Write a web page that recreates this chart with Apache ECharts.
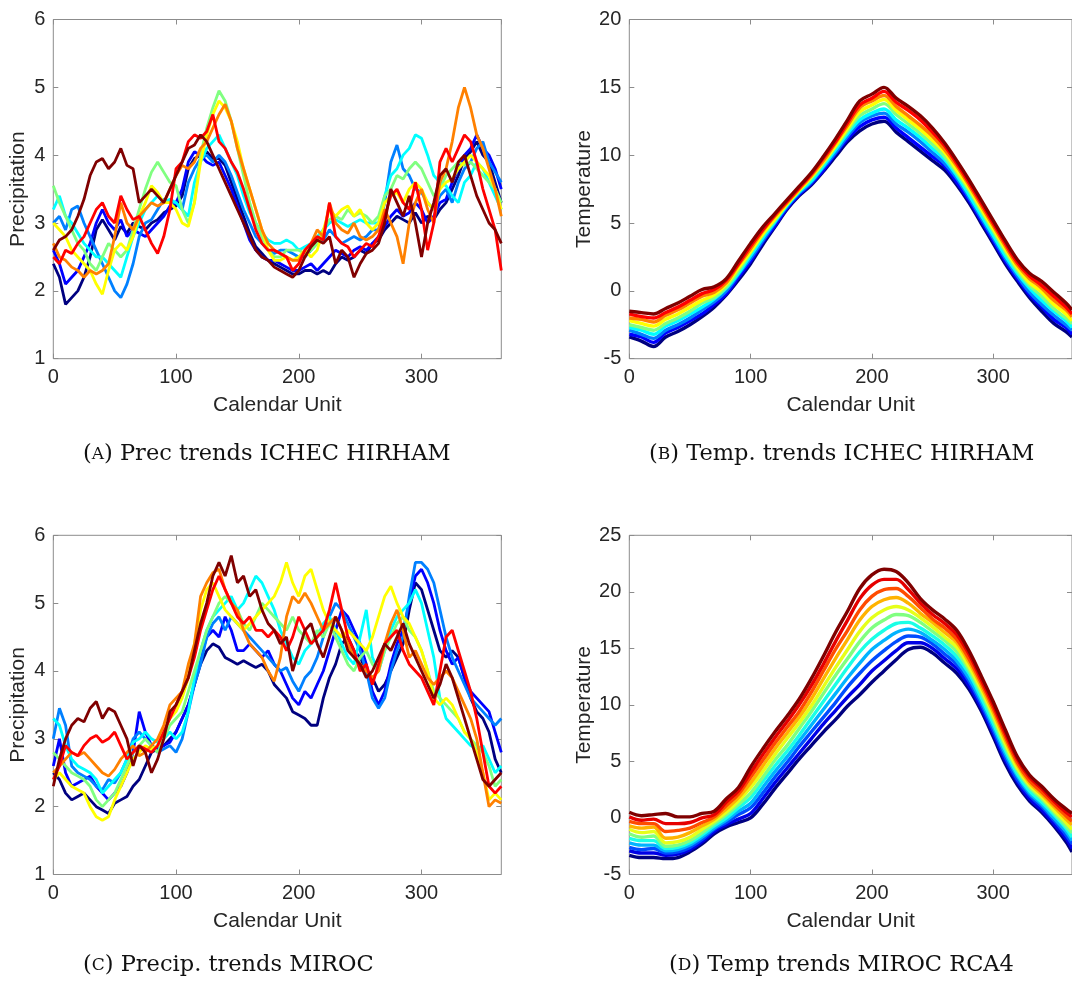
<!DOCTYPE html>
<html><head><meta charset="utf-8">
<script src="https://cdn.jsdelivr.net/npm/echarts@6/dist/echarts.min.js"></script>
<style>html,body{margin:0;padding:0;background:#fff}#c{width:1072px;height:984px}</style>
</head><body><div id="c"></div>
<script>
// ---------- x values ----------
const DAYS_P = [0,5,10,15,20,25,30,35,40,45,50,55,60,65,70,75,80,85,90,95,100,105,110,115,120,125,130,135,140,145,150,155,160,165,170,175,180,185,190,195,200,205,210,215,220,225,230,235,240,245,250,255,260,265,270,275,280,285,290,295,300,305,310,315,320,325,330,335,340,345,350,355,360,365];
const DAYS_T = [0,10,20,30,40,50,60,70,80,90,100,110,120,130,140,150,160,170,180,190,200,210,220,230,240,250,260,270,280,290,300,310,320,330,340,350,360,365];

// ---------- (A) precipitation ICHEC HIRHAM ----------
const PREC_A_DARKBLUE = [2.4,2.2,1.8,1.9,2.0,2.2,2.5,2.9,3.05,2.9,2.75,2.95,2.85,3.0,2.95,2.9,3.0,3.05,3.15,3.2,3.25,3.4,3.8,3.95,4.0,4.05,3.95,3.95,3.85,3.6,3.35,3.1,2.85,2.65,2.55,2.45,2.4,2.35,2.3,2.25,2.25,2.3,2.3,2.25,2.3,2.25,2.4,2.5,2.45,2.5,2.6,2.55,2.7,2.75,2.9,3.0,3.1,3.05,3.0,3.15,3.0,3.1,3.05,3.2,3.3,3.5,3.7,3.95,4.05,4.2,4.0,3.9,3.6,3.3];
const PREC_A_BLUE = [2.6,2.4,2.1,2.2,2.3,2.5,2.7,3.0,3.2,3.0,2.9,3.05,2.8,2.9,2.85,2.8,2.9,3.0,3.1,3.25,3.3,3.5,3.9,4.05,4.0,3.9,3.85,3.9,3.7,3.5,3.25,3.0,2.75,2.6,2.5,2.45,2.45,2.4,2.35,2.3,2.3,2.35,2.4,2.3,2.4,2.5,2.6,2.55,2.5,2.6,2.65,2.6,2.7,2.8,2.95,3.1,3.2,3.1,3.15,3.3,3.2,3.0,3.1,3.3,3.35,3.6,3.8,4.0,4.1,4.3,4.1,4.0,3.8,3.5];
const PREC_A_LIGHTBLUE = [3.0,3.1,2.9,3.2,3.25,3.0,2.8,2.6,2.4,2.2,2.0,1.9,2.1,2.4,2.8,3.0,3.05,3.2,3.35,3.3,3.3,3.2,3.6,3.8,3.95,4.0,3.9,4.0,3.9,3.7,3.45,3.2,3.0,2.8,2.7,2.6,2.55,2.6,2.6,2.55,2.5,2.5,2.6,2.7,2.75,2.9,2.8,2.7,2.75,2.8,2.75,2.8,2.9,2.9,3.3,3.9,4.15,3.8,3.7,3.5,3.45,3.3,3.2,3.4,3.5,3.3,3.6,3.8,3.9,4.1,4.2,3.9,3.75,3.6];
const PREC_A_CYAN = [3.2,3.4,3.1,3.0,2.85,2.7,2.6,2.5,2.5,2.4,2.3,2.2,2.5,2.8,3.0,3.2,3.3,3.4,3.3,3.35,3.3,3.2,3.1,3.6,3.9,4.1,4.2,4.3,4.1,3.9,3.7,3.4,3.15,3.0,2.85,2.75,2.7,2.7,2.75,2.7,2.6,2.65,2.7,2.8,2.9,3.0,3.05,3.0,2.95,3.0,3.05,3.0,3.0,3.0,3.4,3.7,3.8,4.0,4.1,4.3,4.25,4.0,3.7,3.6,3.55,3.4,3.3,3.6,3.7,3.9,3.8,3.6,3.4,3.2];
const PREC_A_GREEN = [3.55,3.3,3.1,2.9,2.7,2.6,2.4,2.3,2.5,2.7,2.6,2.5,2.6,2.9,3.2,3.5,3.75,3.9,3.75,3.6,3.55,3.2,3.0,3.3,4.0,4.4,4.7,4.95,4.8,4.5,4.1,3.7,3.3,3.0,2.8,2.6,2.5,2.5,2.6,2.6,2.6,2.55,2.6,2.7,2.9,3.05,3.1,3.05,3.2,3.1,3.15,3.1,3.0,3.1,3.4,3.5,3.7,3.65,3.8,3.9,3.8,3.6,3.4,3.5,3.7,3.8,3.9,3.85,3.9,3.8,3.7,3.6,3.5,3.3];
const PREC_A_YELLOW = [3.0,2.9,2.8,2.6,2.5,2.4,2.3,2.1,1.95,2.3,2.6,2.7,2.6,2.8,3.1,3.3,3.55,3.45,3.3,3.3,3.2,3.0,2.95,3.3,3.9,4.3,4.6,4.8,4.7,4.5,4.2,3.8,3.5,3.2,2.9,2.6,2.45,2.45,2.5,2.45,2.5,2.6,2.5,2.6,2.9,3.2,3.1,3.2,3.25,3.1,3.2,3.0,2.9,3.0,3.3,3.4,3.45,3.3,3.5,3.6,3.5,3.3,3.2,3.5,3.6,3.65,3.8,3.9,4.0,3.9,3.8,3.7,3.5,3.2];
const PREC_A_ORANGE = [2.7,2.5,2.45,2.35,2.3,2.2,2.3,2.25,2.3,2.4,2.8,3.3,3.0,2.9,3.1,3.2,3.3,3.25,3.3,3.5,3.7,3.85,3.8,3.9,4.1,4.2,4.4,4.6,4.75,4.5,4.1,3.8,3.5,3.2,2.9,2.7,2.6,2.55,2.5,2.45,2.45,2.6,2.7,2.9,2.8,3.3,3.0,2.9,2.85,3.0,2.8,2.75,2.8,2.9,3.2,3.0,2.8,2.4,3.0,3.3,3.5,3.2,3.0,3.6,3.8,4.2,4.7,5.0,4.7,4.3,4.1,3.8,3.5,3.1];
const PREC_A_RED = [2.5,2.4,2.6,2.55,2.7,2.8,3.0,3.2,3.3,3.1,3.0,3.4,3.2,3.05,3.1,2.9,2.7,2.55,2.8,3.2,3.8,3.9,4.2,4.3,4.25,4.35,4.6,4.2,4.1,3.9,3.75,3.5,3.2,2.9,2.7,2.6,2.6,2.55,2.5,2.3,2.4,2.6,2.7,2.8,2.75,3.3,2.8,2.7,2.65,2.5,2.6,2.7,2.65,2.8,3.1,3.4,3.5,3.3,3.2,3.6,3.2,2.6,3.0,3.9,4.1,3.9,4.1,4.3,4.2,3.9,3.5,3.2,2.9,2.3];
const PREC_A_DARKRED = [2.6,2.75,2.8,2.9,3.1,3.35,3.7,3.9,3.95,3.8,3.9,4.1,3.85,3.8,3.3,3.4,3.5,3.4,3.3,3.5,3.7,3.9,4.1,4.15,4.3,4.2,4.0,3.8,3.6,3.4,3.2,3.0,2.8,2.6,2.5,2.45,2.35,2.3,2.25,2.2,2.3,2.5,2.65,2.75,2.7,2.8,2.4,2.6,2.5,2.2,2.4,2.55,2.6,2.7,3.0,3.5,3.3,3.1,3.4,3.0,2.5,3.0,3.3,3.7,3.8,3.6,3.9,4.0,3.7,3.4,3.2,3.0,2.9,2.7];

// ---------- (C) precipitation MIROC ----------
const PREC_C_DARKBLUE = [2.5,2.4,2.2,2.1,2.15,2.2,2.1,2.0,1.95,1.9,2.05,2.1,2.15,2.3,2.4,2.6,2.8,2.85,2.9,3.0,3.1,3.3,3.5,3.8,4.1,4.3,4.4,4.35,4.2,4.15,4.1,4.15,4.1,4.05,4.1,4.0,3.8,3.7,3.6,3.4,3.35,3.3,3.2,3.2,3.6,3.9,4.1,4.4,4.5,4.3,4.2,4.0,3.9,3.7,3.8,4.0,4.2,4.4,4.9,5.3,5.2,4.9,4.6,4.3,4.2,4.3,4.2,3.9,3.6,3.4,3.3,3.1,2.7,2.5];
const PREC_C_BLUE = [2.6,3.0,2.5,2.3,2.35,2.4,2.45,2.3,2.2,2.1,2.2,2.3,2.5,2.8,3.4,3.1,2.9,2.85,2.9,2.95,3.1,3.3,3.5,3.8,4.2,4.5,4.6,4.5,4.8,4.6,4.3,4.3,4.4,4.3,4.2,4.3,4.1,4.0,3.8,3.6,3.5,3.7,3.6,3.8,4.0,4.3,4.6,4.9,4.8,4.6,4.4,4.1,3.7,3.5,3.7,4.1,4.4,4.6,5.0,5.4,5.5,5.3,5.0,4.6,4.3,4.1,4.2,3.9,3.7,3.6,3.5,3.4,3.1,2.8];
const PREC_C_LIGHTBLUE = [3.0,3.45,3.2,2.6,2.5,2.45,2.4,2.3,2.25,2.4,2.35,2.5,2.7,3.0,3.1,3.0,2.9,2.8,2.85,2.9,2.8,3.0,3.4,3.8,4.1,4.5,4.7,4.8,4.6,4.8,4.7,4.6,4.5,4.4,4.3,4.2,4.1,4.0,4.05,3.85,3.7,3.9,4.0,4.2,4.5,4.8,5.0,4.9,4.7,4.5,4.3,4.0,3.6,3.45,3.6,4.0,4.3,4.5,5.1,5.6,5.6,5.5,5.3,4.9,4.5,4.2,4.0,3.8,3.6,3.5,3.4,3.3,3.2,3.3];
const PREC_C_CYAN = [3.3,3.2,2.9,2.7,2.6,2.55,2.5,2.4,2.2,2.3,2.4,2.5,2.7,2.95,3.0,3.1,3.0,2.95,3.0,3.1,3.0,3.1,3.4,3.9,4.3,4.6,4.8,4.9,5.0,5.1,4.9,5.0,5.2,5.4,5.3,5.1,4.9,4.6,4.4,4.2,4.1,4.3,4.4,4.5,4.7,4.8,4.6,4.4,4.2,4.1,4.5,4.9,4.2,4.0,4.3,4.6,4.8,4.9,5.0,5.2,5.0,4.6,4.2,3.6,3.3,3.2,3.1,3.0,2.9,2.85,2.9,2.7,2.5,2.6];
const PREC_C_GREEN = [2.8,2.7,2.6,2.5,2.45,2.4,2.3,2.1,2.0,2.1,2.2,2.4,2.6,2.8,2.9,3.0,2.9,2.8,3.0,3.2,3.3,3.4,3.7,4.0,4.3,4.6,4.8,5.0,5.1,5.0,4.9,4.7,4.6,4.8,5.0,4.9,4.8,4.7,4.6,4.8,4.6,4.5,4.4,4.6,4.5,4.7,4.5,4.3,4.1,4.0,4.2,4.3,4.1,4.0,4.3,4.5,4.7,4.8,4.6,4.5,4.3,4.0,3.7,3.6,3.5,3.4,3.3,3.1,3.0,2.9,2.8,2.6,2.3,2.4];
const PREC_C_YELLOW = [2.4,2.5,2.4,2.3,2.25,2.2,2.0,1.85,1.8,1.85,2.1,2.3,2.5,2.7,2.8,2.9,2.85,2.9,3.1,3.3,3.4,3.6,3.9,4.4,4.9,5.2,5.3,5.1,4.9,4.8,4.7,4.6,4.7,4.8,4.9,5.0,5.1,5.3,5.6,5.3,5.1,5.4,5.5,5.2,4.9,4.7,4.6,4.5,4.6,4.5,4.4,4.3,4.5,4.8,5.1,5.25,5.0,4.8,4.7,4.5,4.3,4.0,3.6,3.5,3.6,3.5,3.3,3.1,3.0,2.8,2.5,2.1,2.2,2.1];
const PREC_C_ORANGE = [2.5,2.6,2.7,2.8,2.75,2.8,2.7,2.6,2.5,2.45,2.55,2.7,2.8,2.9,2.75,2.8,2.9,3.0,3.2,3.5,3.6,3.7,4.1,4.4,5.1,5.3,5.45,5.5,5.2,5.0,4.9,4.6,4.4,4.3,4.2,4.0,3.85,4.2,4.8,5.1,5.0,5.15,5.0,4.8,4.6,4.7,4.8,4.6,4.4,4.2,4.1,4.0,3.9,4.0,4.4,4.7,4.9,4.6,4.2,4.3,4.1,3.9,3.8,3.9,4.0,3.9,3.7,3.5,3.3,3.0,2.5,2.0,2.1,2.05];
const PREC_C_RED = [2.4,2.6,2.9,2.8,2.75,2.9,3.0,3.05,2.95,3.0,3.1,2.9,2.7,2.8,2.9,2.85,2.8,2.9,3.1,3.3,3.5,3.7,3.9,4.2,4.6,4.9,5.2,5.4,5.2,5.0,4.8,4.7,4.8,4.6,4.6,4.5,4.6,4.5,4.3,4.5,4.8,4.6,4.4,4.5,4.6,4.9,5.3,4.9,4.5,4.3,4.0,4.1,3.8,4.1,4.4,4.5,4.6,4.3,4.1,4.0,3.9,3.7,3.5,4.0,4.5,4.6,4.3,4.0,3.7,3.3,2.8,2.3,2.2,2.3];
const PREC_C_DARKRED = [2.3,2.7,3.0,3.2,3.3,3.25,3.45,3.55,3.3,3.45,3.4,3.2,3.0,2.6,2.9,2.8,2.5,2.7,3.0,3.4,3.5,3.7,3.9,4.3,4.7,5.0,5.4,5.6,5.4,5.7,5.3,5.4,5.1,5.2,4.9,4.7,4.6,4.4,4.5,4.0,4.3,4.6,4.7,4.4,4.2,4.5,4.8,4.6,4.3,4.2,4.1,3.9,4.0,4.2,4.4,4.3,4.5,4.7,4.4,4.2,4.0,3.8,3.6,3.8,4.1,3.9,3.6,3.3,3.0,2.7,2.4,2.3,2.4,2.5];

// ---------- (B) temperature ICHEC HIRHAM (coolest -> warmest member) ----------
const TEMP_B_0 = [-3.4,-3.7,-4.1,-3.4,-3.0,-2.5,-1.9,-1.2,-0.3,0.8,2.0,3.4,4.7,6.0,7.0,7.8,8.8,9.9,11.0,11.8,12.3,12.5,11.7,11.0,10.3,9.6,8.9,7.8,6.5,5.0,3.5,2.0,0.7,-0.5,-1.5,-2.4,-3.0,-3.4];
const TEMP_B_1 = [-3.2,-3.4,-3.8,-3.1,-2.7,-2.2,-1.7,-1.0,-0.2,1.0,2.2,3.6,4.8,6.1,7.1,7.9,8.9,10.1,11.2,12.1,12.6,12.8,12.0,11.3,10.6,9.9,9.2,8.0,6.7,5.2,3.7,2.2,0.9,-0.3,-1.2,-2.1,-2.7,-3.2];
const TEMP_B_2 = [-2.9,-3.2,-3.5,-2.9,-2.5,-2.0,-1.4,-0.8,0.0,1.2,2.4,3.7,5.0,6.2,7.2,8.0,9.1,10.2,11.4,12.4,12.9,13.1,12.3,11.7,11.0,10.2,9.4,8.3,6.9,5.4,3.9,2.4,1.1,-0.1,-1.0,-1.8,-2.5,-2.9];
const TEMP_B_3 = [-2.7,-2.9,-3.2,-2.6,-2.2,-1.7,-1.2,-0.6,0.2,1.3,2.6,3.9,5.1,6.3,7.3,8.1,9.2,10.4,11.6,12.6,13.1,13.4,12.6,12.0,11.3,10.5,9.7,8.5,7.1,5.6,4.1,2.6,1.3,0.2,-0.7,-1.5,-2.2,-2.7];
const TEMP_B_4 = [-2.5,-2.7,-2.9,-2.4,-2.0,-1.5,-0.9,-0.5,0.3,1.5,2.8,4.1,5.2,6.4,7.4,8.3,9.4,10.6,11.8,12.9,13.4,13.8,13.0,12.3,11.6,10.8,9.9,8.7,7.4,5.9,4.4,2.9,1.5,0.4,-0.4,-1.3,-2.0,-2.4];
const TEMP_B_5 = [-2.2,-2.4,-2.6,-2.1,-1.7,-1.2,-0.7,-0.3,0.5,1.7,2.9,4.2,5.3,6.4,7.4,8.4,9.5,10.7,12.0,13.2,13.7,14.1,13.3,12.6,11.9,11.1,10.2,8.9,7.6,6.1,4.6,3.1,1.7,0.6,-0.1,-1.0,-1.7,-2.2];
const TEMP_B_6 = [-2.0,-2.1,-2.3,-1.8,-1.4,-0.9,-0.4,-0.1,0.6,1.9,3.1,4.4,5.5,6.5,7.5,8.5,9.6,10.9,12.2,13.5,14.0,14.4,13.6,12.9,12.2,11.4,10.4,9.2,7.8,6.3,4.8,3.3,1.9,0.9,0.2,-0.7,-1.4,-1.9];
const TEMP_B_7 = [-1.7,-1.9,-2.0,-1.6,-1.2,-0.7,-0.2,0.1,0.8,2.0,3.3,4.5,5.6,6.6,7.6,8.6,9.8,11.0,12.4,13.7,14.2,14.7,13.9,13.3,12.6,11.7,10.7,9.4,8.0,6.5,5.0,3.5,2.1,1.1,0.4,-0.4,-1.2,-1.7];
const TEMP_B_8 = [-1.5,-1.6,-1.7,-1.3,-0.9,-0.4,0.1,0.3,0.9,2.2,3.5,4.7,5.7,6.7,7.7,8.7,9.9,11.2,12.6,14.0,14.5,15.0,14.2,13.6,12.9,12.0,10.9,9.6,8.2,6.7,5.2,3.7,2.3,1.3,0.7,-0.1,-0.9,-1.4];

// ---------- (D) temperature MIROC RCA4 (coolest -> warmest member) ----------
const TEMP_D_0 = [-3.3,-3.5,-3.5,-3.6,-3.5,-3.0,-2.3,-1.4,-0.8,-0.4,0.0,1.2,2.6,3.9,5.2,6.4,7.6,8.7,9.9,10.9,12.0,13.0,14.0,14.9,15.1,14.6,13.7,12.8,11.4,9.5,7.2,4.8,2.9,1.5,0.5,-0.7,-2.1,-3.0];
const TEMP_D_1 = [-2.9,-3.1,-3.1,-3.3,-3.2,-2.8,-2.1,-1.2,-0.6,-0.1,0.4,1.7,3.1,4.4,5.7,7.0,8.3,9.5,10.7,11.8,13.0,13.9,14.8,15.5,15.5,15.0,14.1,13.2,11.7,9.8,7.5,5.1,3.2,1.7,0.7,-0.5,-1.8,-2.7];
const TEMP_D_2 = [-2.6,-2.8,-2.7,-3.1,-3.0,-2.6,-1.9,-1.0,-0.4,0.3,0.9,2.2,3.6,4.9,6.3,7.6,8.9,10.2,11.6,12.8,13.9,14.8,15.6,16.1,16.0,15.4,14.5,13.6,12.1,10.1,7.8,5.4,3.4,2.0,1.0,-0.2,-1.5,-2.3];
const TEMP_D_3 = [-2.2,-2.4,-2.4,-2.9,-2.8,-2.4,-1.7,-0.9,-0.2,0.6,1.3,2.7,4.1,5.4,6.8,8.2,9.6,11.0,12.4,13.7,14.9,15.7,16.4,16.7,16.4,15.7,14.9,13.9,12.4,10.4,8.1,5.7,3.7,2.2,1.2,0.0,-1.2,-2.0];
const TEMP_D_4 = [-1.8,-2.0,-2.0,-2.7,-2.6,-2.2,-1.5,-0.7,0.0,0.9,1.8,3.2,4.6,5.9,7.3,8.8,10.3,11.8,13.3,14.7,15.8,16.6,17.2,17.3,16.8,16.1,15.3,14.3,12.8,10.7,8.4,6.0,3.9,2.4,1.4,0.3,-0.9,-1.7];
const TEMP_D_5 = [-1.4,-1.7,-1.6,-2.5,-2.4,-2.0,-1.3,-0.5,0.3,1.2,2.2,3.6,5.1,6.4,7.9,9.4,11.0,12.6,14.1,15.6,16.8,17.5,18.0,17.9,17.3,16.5,15.7,14.7,13.1,11.1,8.8,6.3,4.2,2.7,1.7,0.5,-0.7,-1.3];
const TEMP_D_6 = [-1.0,-1.3,-1.2,-2.2,-2.1,-1.7,-1.0,-0.3,0.5,1.5,2.7,4.1,5.6,7.0,8.4,9.9,11.6,13.3,14.9,16.5,17.7,18.4,18.7,18.4,17.7,16.9,16.0,15.1,13.4,11.4,9.1,6.6,4.4,2.9,1.9,0.7,-0.4,-1.0];
const TEMP_D_7 = [-0.7,-0.9,-0.8,-1.8,-1.7,-1.3,-0.7,-0.1,0.8,1.8,3.1,4.6,6.1,7.5,8.9,10.5,12.3,14.1,15.8,17.5,18.7,19.3,19.5,19.0,18.1,17.3,16.4,15.5,13.8,11.7,9.4,6.9,4.7,3.1,2.1,1.0,-0.1,-0.6];
const TEMP_D_8 = [-0.3,-0.5,-0.5,-1.2,-1.1,-0.9,-0.4,0.1,1.1,2.1,3.6,5.1,6.6,8.0,9.4,11.1,13.0,14.9,16.6,18.4,19.6,20.2,20.3,19.6,18.6,17.6,16.8,15.8,14.1,12.0,9.7,7.2,4.9,3.3,2.3,1.2,0.2,-0.3];
const TEMP_D_9 = [0.1,-0.2,-0.1,-0.5,-0.5,-0.4,0.0,0.3,1.4,2.4,4.0,5.6,7.1,8.5,10.0,11.7,13.6,15.6,17.5,19.4,20.6,21.1,21.1,20.2,19.0,18.0,17.2,16.2,14.5,12.3,10.0,7.5,5.2,3.6,2.6,1.5,0.5,0.1];
const TEMP_D_10 = [0.5,0.2,0.3,0.4,0.1,0.1,0.4,0.6,1.7,2.7,4.5,6.1,7.6,9.0,10.5,12.3,14.3,16.4,18.3,20.3,21.5,22.0,21.8,20.8,19.4,18.4,17.6,16.6,14.8,12.6,10.3,7.8,5.4,3.8,2.8,1.7,0.8,0.4];

// ---------- ticks & labels ----------
const X_TICKS = [0,100,200,300];
const X_NAME = 'Calendar Unit';
const CAPTIONS = [
  ['A', 'Prec trends ICHEC HIRHAM'],
  ['B', 'Temp. trends ICHEC HIRHAM'],
  ['C', 'Precip. trends MIROC'],
  ['D', 'Temp trends MIROC RCA4']
];

// ---------- styles ----------
const JET9 = ['#000080','#0000FF','#0080FF','#00FFFF','#80FF80','#FFFF00','#FF8000','#FF0000','#800000'];
const JET11 = ['#000080','#0000E6','#004CFF','#00B3FF','#1AFFE6','#80FF80','#E6FF1A','#FFB300','#FF4C00','#E60000','#800000'];
const TXT = '#262626', BOX = '#8c8c8c';

const PANELS = [
  {left:53.3, top:19.5, width:448, ymin:1, ymax:6, yint:1, yname:'Precipitation', gap:25, days:DAYS_P, width_l:2.8, smooth:false,
   series:[PREC_A_DARKBLUE,PREC_A_BLUE,PREC_A_LIGHTBLUE,PREC_A_CYAN,PREC_A_GREEN,PREC_A_YELLOW,PREC_A_ORANGE,PREC_A_RED,PREC_A_DARKRED], colors:JET9},
  {left:629.3, top:19.5, width:447.5, ymin:-5, ymax:20, yint:5, yname:'Temperature', gap:35, days:DAYS_T, width_l:3.4, smooth:0.35,
   series:[TEMP_B_0,TEMP_B_1,TEMP_B_2,TEMP_B_3,TEMP_B_4,TEMP_B_5,TEMP_B_6,TEMP_B_7,TEMP_B_8], colors:JET9},
  {left:53.3, top:535.3, width:448, ymin:1, ymax:6, yint:1, yname:'Precipitation', gap:25, days:DAYS_P, width_l:2.8, smooth:false,
   series:[PREC_C_DARKBLUE,PREC_C_BLUE,PREC_C_LIGHTBLUE,PREC_C_CYAN,PREC_C_GREEN,PREC_C_YELLOW,PREC_C_ORANGE,PREC_C_RED,PREC_C_DARKRED], colors:JET9},
  {left:629.3, top:535.3, width:447.5, ymin:-5, ymax:25, yint:5, yname:'Temperature', gap:35, days:DAYS_T, width_l:3.4, smooth:0.35,
   series:[TEMP_D_0,TEMP_D_1,TEMP_D_2,TEMP_D_3,TEMP_D_4,TEMP_D_5,TEMP_D_6,TEMP_D_7,TEMP_D_8,TEMP_D_9,TEMP_D_10], colors:JET11}
];
const CAP_POS = [[83,443],[649,443],[83,954],[669,954]];

PANELS.forEach((p,i)=>p.series.forEach((s,k)=>{ if(s.length!==p.days.length) throw new Error('panel '+i+' series '+k+' length '+s.length+' != '+p.days.length); }));

const grid=[], xAxis=[], yAxis=[], series=[];
const tickFont = {fontFamily:'Liberation Sans, Arial, sans-serif', fontSize:20, color:TXT};
const nameFont = {fontFamily:'Liberation Sans, Arial, sans-serif', fontSize:21, color:TXT};
PANELS.forEach((p,i)=>{
  grid.push({left:p.left, top:p.top, width:p.width, height:339.2, show:true, borderColor:BOX, borderWidth:1, backgroundColor:'#fff'});
  const tick = {show:true, inside:true, length:5, lineStyle:{color:BOX, width:1}};
  xAxis.push({gridIndex:i, type:'value', min:0, max:365, interval:100, position:'bottom',
    axisLine:{show:false, onZero:false}, axisTick:tick, splitLine:{show:false},
    axisLabel:Object.assign({margin:9, showMaxLabel:false, formatter:v=>X_TICKS.indexOf(v)>=0?String(v):''}, tickFont),
    name:X_NAME, nameLocation:'middle', nameGap:36, nameTextStyle:nameFont});
  xAxis.push({gridIndex:i, type:'value', min:0, max:365, interval:100, position:'top',
    axisLine:{show:false, onZero:false}, axisTick:tick, axisLabel:{show:false}, splitLine:{show:false}});
  yAxis.push({gridIndex:i, type:'value', min:p.ymin, max:p.ymax, interval:p.yint, position:'left',
    axisLine:{show:false, onZero:false}, axisTick:tick, splitLine:{show:false},
    axisLabel:Object.assign({margin:8}, tickFont),
    name:p.yname, nameLocation:'middle', nameRotate:90, nameGap:p.gap, nameTextStyle:nameFont});
  yAxis.push({gridIndex:i, type:'value', min:p.ymin, max:p.ymax, interval:p.yint, position:'right',
    axisLine:{show:false, onZero:false}, axisTick:tick, axisLabel:{show:false}, splitLine:{show:false}});
  p.series.forEach((vals,k)=>{
    series.push({type:'line', xAxisIndex:2*i, yAxisIndex:2*i, silent:true, showSymbol:false, symbol:'none',
      smooth:p.smooth, animation:false, z:2,
      lineStyle:{width:p.width_l, color:p.colors[k]},
      data:p.days.map((d,j)=>[d, vals[j]])});
  });
});

const graphic = CAPTIONS.map((c,i)=>({
  type:'text', left:CAP_POS[i][0], top:CAP_POS[i][1],
  style:{text:'{n|(}{s|'+c[0]+'}{n|) '+c[1]+'}',
    rich:{n:{fontFamily:'DejaVu Serif, serif', fontSize:22.5, fill:'#111', color:'#111'},
          s:{fontFamily:'DejaVu Serif, serif', fontSize:17, fill:'#111', color:'#111'}}}
}));

const chart = echarts.init(document.getElementById('c'), null, {renderer:'canvas'});
chart.setOption({backgroundColor:'#fff', animation:false, grid, xAxis, yAxis, series, graphic});
</script></body></html>
